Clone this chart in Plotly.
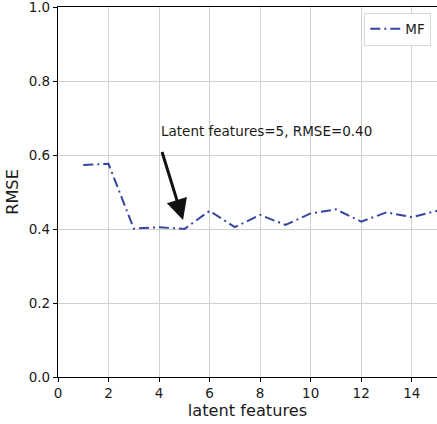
import plotly.graph_objects as go

latent_features = [1, 2, 3, 4, 5, 6, 7, 8, 9, 10, 11, 12, 13, 14, 15]
rmse_mf = [0.573, 0.576, 0.401, 0.405, 0.400, 0.449, 0.405, 0.438, 0.411,
           0.442, 0.453, 0.420, 0.445, 0.432, 0.449]
x_ticks = [0, 2, 4, 6, 8, 10, 12, 14]
y_ticks = [0.0, 0.2, 0.4, 0.6, 0.8, 1.0]

FONT = "DejaVu Sans"
LINE_COLOR = "#3446a0"

fig = go.Figure()
fig.add_trace(go.Scatter(
    x=latent_features, y=rmse_mf, mode="lines", name="MF",
    line=dict(color=LINE_COLOR, width=2, dash="10px,4px,2px,4px"),
))

fig.add_annotation(
    x=4, y=0.638, xref="x", yref="y", text="Latent features=5, RMSE=0.40",
    showarrow=False, xanchor="left", yanchor="bottom",
    font=dict(family=FONT, size=13.5, color="#1a1a1a"),
)
fig.add_annotation(
    x=4.95, y=0.424, xref="x", yref="y", ax=4.1, ay=0.612, axref="x", ayref="y",
    text="", showarrow=True, arrowhead=2, arrowsize=1.4, arrowwidth=3,
    arrowcolor="#111111", standoff=0,
)

axis_common = dict(
    showline=True, linecolor="black", linewidth=1.2, mirror=True,
    ticks="outside", ticklen=4, tickcolor="black", tickwidth=1,
    showgrid=True, gridcolor="#d0d0d0", gridwidth=1.2, zeroline=False,
    tickfont=dict(family=FONT, size=13.5, color="#1a1a1a"),
    automargin=False, ticklabeloverflow="allow",
)

fig.update_xaxes(
    range=[0, 15], tickvals=x_ticks,
    title=dict(text="latent features", font=dict(family=FONT, size=16.2, color="#1a1a1a"), standoff=4),
    **axis_common,
)
fig.update_yaxes(
    range=[0, 1], tickvals=y_ticks, tickformat=".1f",
    title=dict(text="RMSE", font=dict(family=FONT, size=16.2, color="#1a1a1a"), standoff=6),
    **axis_common,
)

fig.update_layout(
    width=437, height=424,
    margin=dict(l=58, r=0, t=7, b=47, autoexpand=False),
    plot_bgcolor="white", paper_bgcolor="white",
    showlegend=True,
    legend=dict(
        x=0.985, y=0.985, xanchor="right", yanchor="top",
        bgcolor="white", bordercolor="#d8d8d8", borderwidth=1,
        font=dict(family=FONT, size=13.5, color="#1a1a1a"),
        itemwidth=30,
    ),
)

fig.write_html(
    "out.html",
    config={"displayModeBar": False},
    post_script="document.body.style.margin='0px';document.body.style.overflow='hidden';",
)
